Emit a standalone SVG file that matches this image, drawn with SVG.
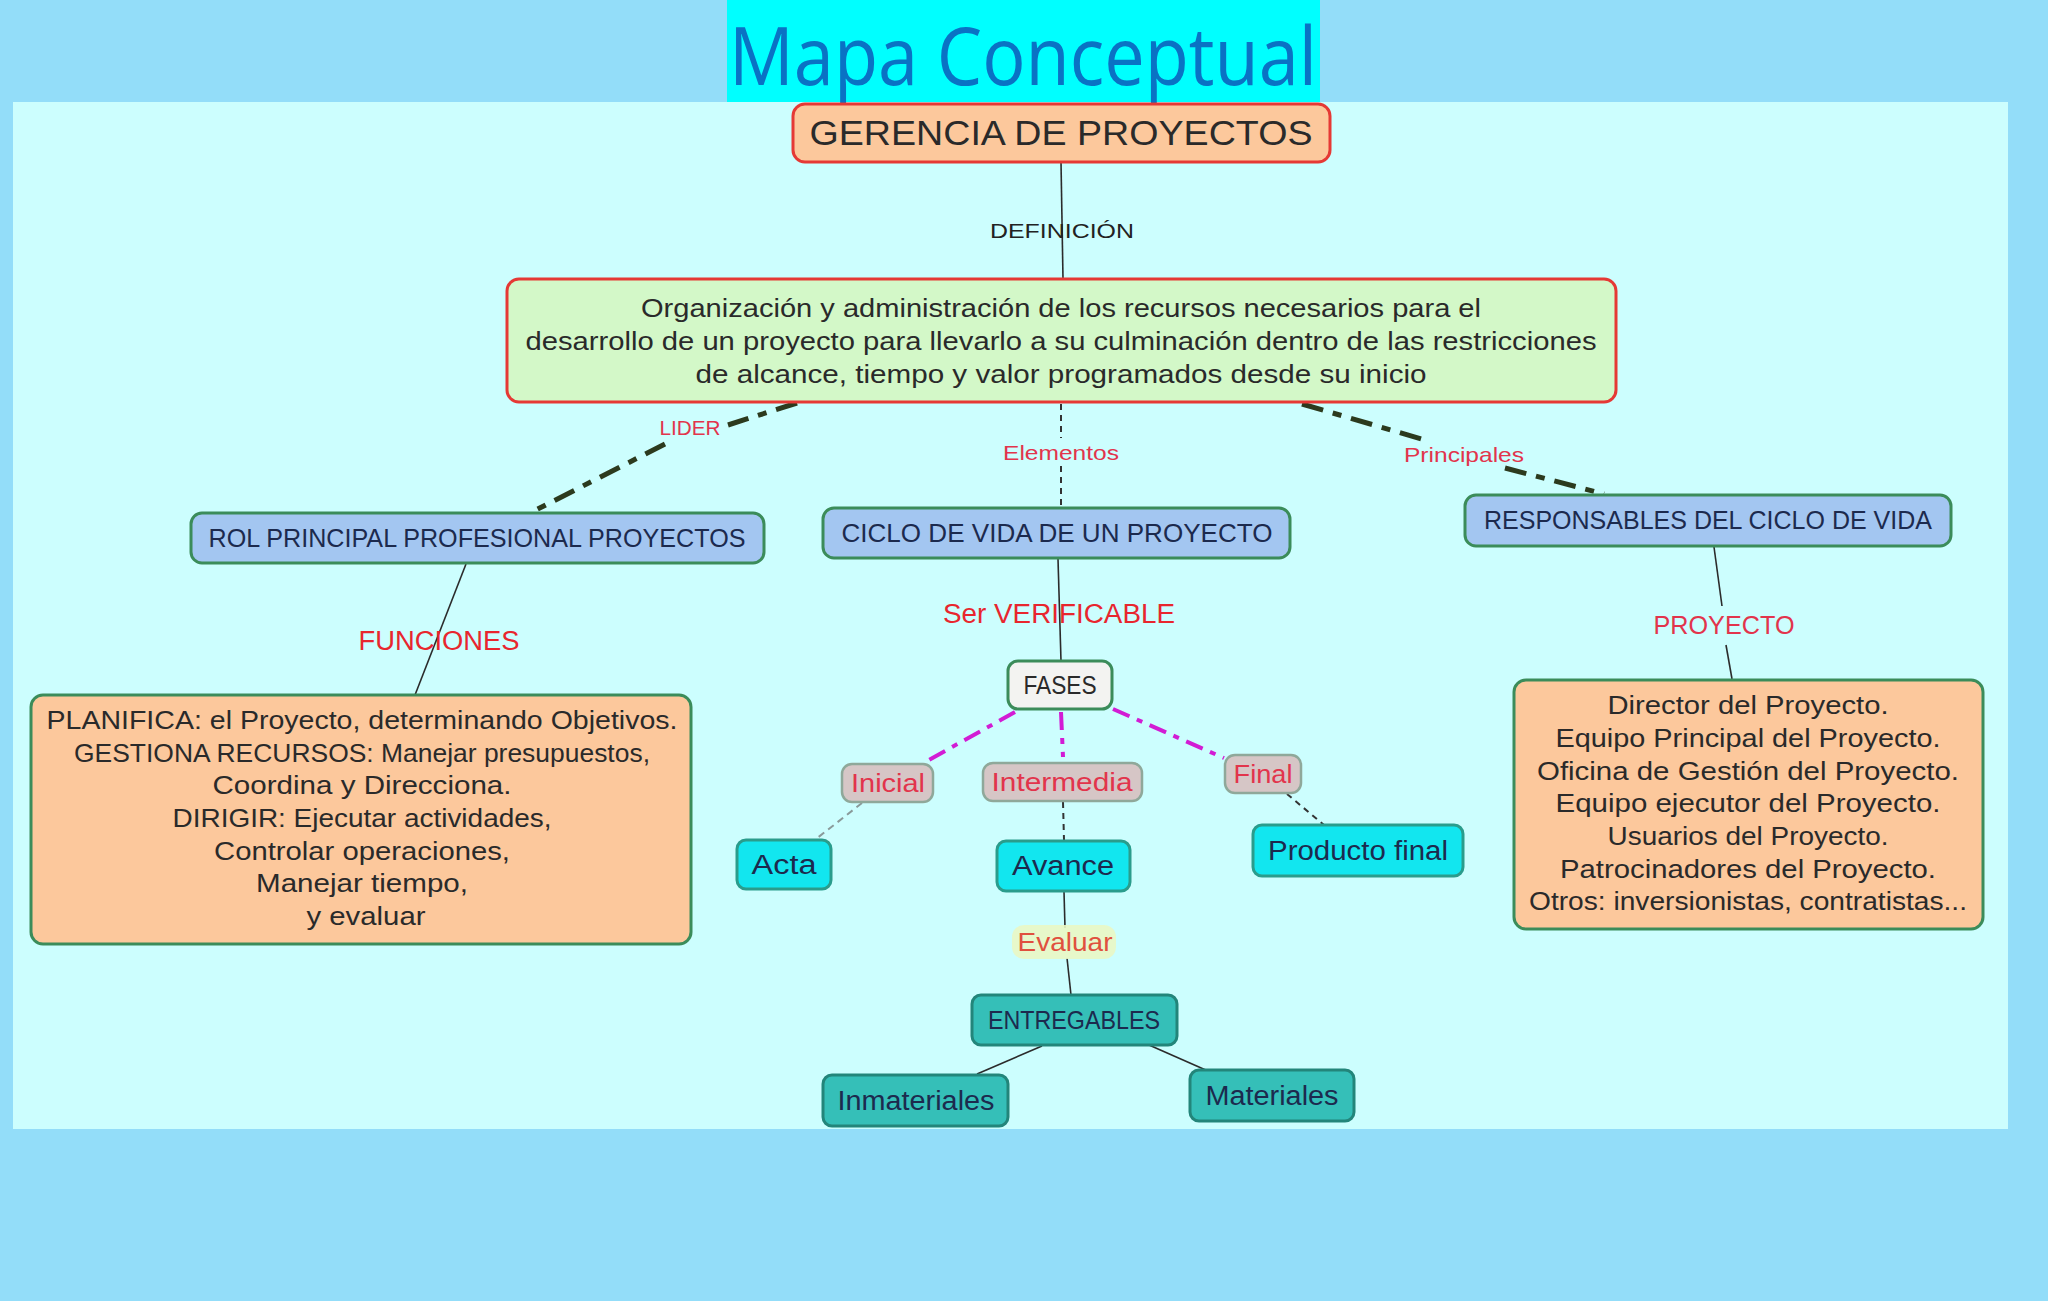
<svg xmlns="http://www.w3.org/2000/svg" width="2048" height="1301" viewBox="0 0 2048 1301">
<style>
  text { font-family: "Liberation Sans", "DejaVu Sans", sans-serif; text-anchor: middle; }
  .box { stroke-width: 3; }
  .peach { fill: #FCC89C; }
  .redb { stroke: #E53935; }
  .greenb { stroke: #3B8C5A; }
  .blue { fill: #A3C6F1; }
  .cyan { fill: #12E6EF; stroke: #2A9C8C; }
  .teal { fill: #35BFB8; stroke: #23857A; }
  .phase { fill: #D6C6C6; stroke: #8FA89A; stroke-width: 2.5; }
  .t { fill: #2A2A2A; font-size: 26px; }
  .tn { fill: #1C2A4E; font-size: 26px; }
  .lab { fill: #E2344C; font-size: 21px; }
  .labb { fill: #E8262E; font-size: 27px; }
  .line { fill: none; stroke: #2B2B2B; stroke-width: 1.6; }
  .thick { fill: none; stroke: #2C3A1E; stroke-width: 5; stroke-dasharray: 22 10 9 10; }
  .mag { fill: none; stroke: #D21CD4; stroke-width: 4; stroke-dasharray: 18 8 6 8; }
  .dot { fill: none; stroke: #333; stroke-width: 2; stroke-dasharray: 6 5; }
  .greydash { fill: none; stroke: #8A9A9A; stroke-width: 2; stroke-dasharray: 7 5; }
</style>
<rect x="0" y="0" width="2048" height="1301" fill="#93DDF9"/>
<rect x="13" y="102" width="1995" height="1027" fill="#CCFEFE"/>
<g id="title">
  <rect x="727" y="0" width="593" height="102" fill="#00FFFF"/>
  <text x="1023" y="85" style="font-family:'Open Sans','Noto Sans',sans-serif;font-size:80px;fill:#0A72C4" textLength="588" lengthAdjust="spacingAndGlyphs">Mapa Conceptual</text>
</g>
<g id="connectors">
  <line class="line" x1="1061" y1="162" x2="1063" y2="279"/>
  <path class="thick" d="M797,403 L728,425 M665,444 L532,512"/>
  <path class="dot" d="M1061,404 L1061,438 M1061,466 L1061,507"/>
  <path class="thick" d="M1302,404 L1425,440 M1505,468 L1604,494"/>
  <line class="line" x1="466" y1="564" x2="415" y2="695"/>
  <line class="line" x1="1058" y1="559" x2="1061" y2="661"/>
  <path class="mag" d="M1015,712 L927,761"/>
  <path class="mag" d="M1061,712 L1063,757"/>
  <path class="mag" d="M1113,709 L1224,758"/>
  <path class="greydash" d="M862,803 L816,839"/>
  <path class="dot" d="M1063,802 L1064,840"/>
  <path class="dot" d="M1287,794 L1324,825"/>
  <line class="line" x1="1064" y1="892" x2="1065" y2="928"/>
  <line class="line" x1="1067" y1="958" x2="1071" y2="995"/>
  <line class="line" x1="1042" y1="1046" x2="977" y2="1074"/>
  <line class="line" x1="1149" y1="1045" x2="1208" y2="1071"/>
  <line class="line" x1="1714" y1="547" x2="1722" y2="606"/>
  <line class="line" x1="1726" y1="645" x2="1732" y2="679"/>
  <text class="t" x="1062" y="238" style="font-size:21px;fill:#222" textLength="144" lengthAdjust="spacingAndGlyphs">DEFINICIÓN</text>
  <text class="lab" x="690" y="435" textLength="61" lengthAdjust="spacingAndGlyphs">LIDER</text>
  <text class="lab" x="1061" y="460" textLength="116" lengthAdjust="spacingAndGlyphs">Elementos</text>
  <text class="lab" x="1464" y="462" textLength="120" lengthAdjust="spacingAndGlyphs">Principales</text>
  <text class="labb" x="439" y="650" textLength="161" lengthAdjust="spacingAndGlyphs">FUNCIONES</text>
  <text class="labb" x="1059" y="623" textLength="232" lengthAdjust="spacingAndGlyphs">Ser VERIFICABLE</text>
  <text class="lab" x="1724" y="634" style="font-size:25px" textLength="141" lengthAdjust="spacingAndGlyphs">PROYECTO</text>
  <rect x="1012" y="925" width="104" height="34" rx="12" fill="#EAF7C4" opacity="0.9"/>
  <text x="1065" y="951" style="font-size:26px;fill:#E0503E" textLength="95" lengthAdjust="spacingAndGlyphs">Evaluar</text>
</g>
<g id="gerencia">
  <rect class="box peach redb" x="793" y="104" width="537" height="58" rx="12"/>
  <text class="t" x="1061" y="145" style="font-size:35px" textLength="503" lengthAdjust="spacingAndGlyphs">GERENCIA DE PROYECTOS</text>
</g>
<g id="definicion">
  <rect class="box redb" x="507" y="279" width="1109" height="123" rx="12" fill="#D3F8C8"/>
  <text class="t" x="1061" y="317" textLength="840" lengthAdjust="spacingAndGlyphs">Organización  y administración de los recursos necesarios para el</text>
  <text class="t" x="1061" y="350" textLength="1071" lengthAdjust="spacingAndGlyphs">desarrollo de un proyecto para llevarlo a su culminación dentro de las restricciones</text>
  <text class="t" x="1061" y="383" textLength="731" lengthAdjust="spacingAndGlyphs">de alcance, tiempo y valor programados desde su inicio</text>
</g>
<g id="rol">
  <rect class="box blue greenb" x="191" y="513" width="573" height="50" rx="11"/>
  <text class="tn" x="477" y="547" textLength="537" lengthAdjust="spacingAndGlyphs">ROL PRINCIPAL PROFESIONAL PROYECTOS</text>
</g>
<g id="ciclo">
  <rect class="box blue greenb" x="823" y="508" width="467" height="50" rx="11"/>
  <text class="tn" x="1057" y="542" textLength="431" lengthAdjust="spacingAndGlyphs">CICLO DE VIDA DE UN PROYECTO</text>
</g>
<g id="responsables">
  <rect class="box blue greenb" x="1465" y="495" width="486" height="51" rx="11"/>
  <text class="tn" x="1708" y="529" textLength="448" lengthAdjust="spacingAndGlyphs">RESPONSABLES DEL CICLO DE VIDA</text>
</g>
<g id="funciones">
  <rect class="box peach greenb" x="31" y="695" width="660" height="249" rx="12"/>
  <text class="t" x="362" y="729" textLength="631" lengthAdjust="spacingAndGlyphs">PLANIFICA: el Proyecto, determinando Objetivos.</text>
  <text class="t" x="362" y="762" textLength="576" lengthAdjust="spacingAndGlyphs">GESTIONA RECURSOS: Manejar presupuestos,</text>
  <text class="t" x="362" y="794" textLength="299" lengthAdjust="spacingAndGlyphs">Coordina y Direcciona.</text>
  <text class="t" x="362" y="827" textLength="379" lengthAdjust="spacingAndGlyphs">DIRIGIR: Ejecutar actividades,</text>
  <text class="t" x="362" y="860" textLength="296" lengthAdjust="spacingAndGlyphs">Controlar operaciones,</text>
  <text class="t" x="362" y="892" textLength="212" lengthAdjust="spacingAndGlyphs">Manejar tiempo,</text>
  <text class="t" x="366" y="925" textLength="119" lengthAdjust="spacingAndGlyphs">y evaluar</text>
</g>
<g id="fases">
  <rect class="box greenb" x="1008" y="661" width="104" height="48" rx="10" fill="#F3F3F1"/>
  <text class="t" x="1060" y="694" style="font-size:25px" textLength="73" lengthAdjust="spacingAndGlyphs">FASES</text>
</g>
<g id="inicial">
  <rect class="phase" x="842" y="764" width="91" height="38" rx="10"/>
  <text class="lab" x="888" y="792" style="font-size:26px" textLength="74" lengthAdjust="spacingAndGlyphs">Inicial</text>
</g>
<g id="intermedia">
  <rect class="phase" x="983" y="763" width="159" height="38" rx="10"/>
  <text class="lab" x="1062" y="791" style="font-size:26px" textLength="141" lengthAdjust="spacingAndGlyphs">Intermedia</text>
</g>
<g id="final">
  <rect class="phase" x="1225" y="755" width="76" height="38" rx="10"/>
  <text class="lab" x="1263" y="783" style="font-size:26px" textLength="59" lengthAdjust="spacingAndGlyphs">Final</text>
</g>
<g id="acta">
  <rect class="box cyan" x="737" y="840" width="94" height="49" rx="9"/>
  <text class="tn" x="784" y="874" style="font-size:27px" textLength="65" lengthAdjust="spacingAndGlyphs">Acta</text>
</g>
<g id="avance">
  <rect class="box cyan" x="997" y="841" width="133" height="50" rx="9"/>
  <text class="tn" x="1063" y="875" style="font-size:27px" textLength="102" lengthAdjust="spacingAndGlyphs">Avance</text>
</g>
<g id="producto">
  <rect class="box cyan" x="1253" y="825" width="210" height="51" rx="9"/>
  <text class="tn" x="1358" y="860" style="font-size:27px" textLength="180" lengthAdjust="spacingAndGlyphs">Producto final</text>
</g>
<g id="entregables">
  <rect class="box teal" x="972" y="995" width="205" height="50" rx="9"/>
  <text class="tn" x="1074" y="1029" style="font-size:26px" textLength="172" lengthAdjust="spacingAndGlyphs">ENTREGABLES</text>
</g>
<g id="inmateriales">
  <rect class="box teal" x="823" y="1075" width="185" height="51" rx="9"/>
  <text class="tn" x="916" y="1110" style="font-size:27px" textLength="157" lengthAdjust="spacingAndGlyphs">Inmateriales</text>
</g>
<g id="materiales">
  <rect class="box teal" x="1190" y="1070" width="164" height="51" rx="9"/>
  <text class="tn" x="1272" y="1105" style="font-size:27px" textLength="133" lengthAdjust="spacingAndGlyphs">Materiales</text>
</g>
<g id="responsables-lista">
  <rect class="box peach greenb" x="1514" y="680" width="469" height="249" rx="12"/>
  <text class="t" x="1748" y="714" textLength="281" lengthAdjust="spacingAndGlyphs">Director del Proyecto.</text>
  <text class="t" x="1748" y="747" textLength="385" lengthAdjust="spacingAndGlyphs">Equipo Principal del Proyecto.</text>
  <text class="t" x="1748" y="780" textLength="422" lengthAdjust="spacingAndGlyphs">Oficina de Gestión del Proyecto.</text>
  <text class="t" x="1748" y="812" textLength="385" lengthAdjust="spacingAndGlyphs">Equipo ejecutor del Proyecto.</text>
  <text class="t" x="1748" y="845" textLength="281" lengthAdjust="spacingAndGlyphs">Usuarios del Proyecto.</text>
  <text class="t" x="1748" y="878" textLength="376" lengthAdjust="spacingAndGlyphs">Patrocinadores del Proyecto.</text>
  <text class="t" x="1748" y="910" textLength="438" lengthAdjust="spacingAndGlyphs">Otros: inversionistas,  contratistas...</text>
</g>
</svg>
